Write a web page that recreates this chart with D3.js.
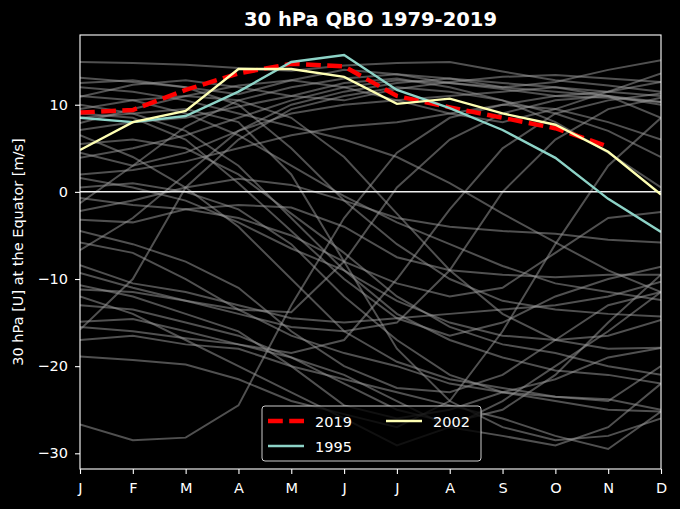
<!DOCTYPE html>
<html>
<head>
<meta charset="utf-8">
<script src="https://cdn.jsdelivr.net/npm/d3@7"></script>
<style>
  html, body { margin: 0; padding: 0; background: #000; }
  svg { display: block; }
  text { font-family: "DejaVu Sans", sans-serif; fill: #fff; }
</style>
</head>
<body>
<script>
// ---------- data ----------
const months = ["J","F","M","A","M","J","J","A","S","O","N","D"];
const yTicks = [10, 0, -10, -20, -30];

const u2019 = [9.1, 9.4, 11.7, 13.6, 14.7, 14.4, 11.0, 9.7, 8.5, 7.3, 5.2];
const u1995 = [8.5, 8.0, 8.7, 11.5, 14.9, 15.7, 11.7, 9.6, 7.1, 3.9, -0.8, -4.6];
const u2002 = [4.8, 8.0, 9.3, 14.1, 14.1, 13.2, 10.1, 10.7, 9.0, 7.7, 4.6, -0.3];

// other years (grey)
const grey01 = [14.9, 14.8, 14.6, 14.2, 13.9, 14.5, 14.8, 14.9, 13.8, 12.8, 12.2, 11.5];
const grey02 = [13.1, 12.6, 12.0, 11.2, 12.8, 14.0, 13.5, 12.5, 12.0, 12.6, 14.0, 15.1];
const grey03 = [10.9, 12.3, 12.8, 12.0, 11.0, 10.5, 11.8, 12.6, 13.2, 13.4, 13.0, 12.6];
const grey04 = [12.0, 11.5, 10.5, 9.0, 7.5, 6.0, 4.0, 1.0, -2.5, -5.8, -9.0, -11.5];
const grey05 = [7.9, 9.5, 11.0, 12.2, 12.8, 12.0, 10.5, 9.0, 8.0, 9.5, 11.5, 13.6];
const grey06 = [7.1, 8.0, 8.5, 9.8, 11.0, 12.5, 13.0, 12.0, 10.5, 8.0, 4.5, 0.5];
const grey07 = [3.9, 5.0, 6.5, 8.5, 10.5, 12.0, 12.8, 12.5, 11.8, 11.0, 10.8, 10.3];
const grey08 = [-26.7, -28.5, -28.2, -24.5, -13.0, -3.0, 4.5, 8.5, 10.0, 11.0, 11.5, 12.6];
const grey09 = [-15.8, -10.0, 0.5, 6.0, 9.5, 11.0, 12.0, 11.5, 10.5, 9.0, 7.0, 4.0];
const grey10 = [-18.9, -19.3, -19.8, -21.5, -24.0, -25.5, -27.0, -24.0, -16.0, -6.0, 3.0, 8.5];
const grey11 = [-14.9, -14.6, -16.0, -17.5, -18.5, -17.0, -10.0, -2.0, 5.0, 9.0, 10.5, 11.3];
const grey12 = [-9.3, -11.0, -12.5, -14.0, -15.5, -16.0, -15.0, -9.0, 0.0, 6.0, 9.5, 10.8];
const grey13 = [-11.2, -11.5, -12.5, -13.5, -13.8, -8.0, 0.5, 6.0, 9.0, 10.5, 11.0, 10.3];
const grey14 = [-6.7, -3.0, 2.0, 7.0, 10.0, 11.5, 12.5, 13.0, 12.0, 11.5, 11.0, 10.0];
const grey15 = [-1.3, 3.0, 7.5, 10.5, 12.0, 13.0, 13.5, 13.0, 12.5, 12.0, 11.5, 11.0];
const grey16 = [10.0, 9.0, 7.0, 3.0, -3.0, -9.0, -14.0, -17.0, -19.0, -20.5, -21.0, -22.0];
const grey17 = [9.5, 10.5, 11.0, 10.5, 8.5, 4.0, -2.5, -9.0, -14.0, -17.0, -18.0, -17.9];
const grey18 = [5.5, 6.0, 5.0, 2.0, -2.5, -7.0, -12.0, -15.5, -17.5, -18.5, -20.0, -21.0];
const grey19 = [1.6, 0.5, -1.0, -3.5, -6.5, -9.0, -12.5, -15.0, -16.5, -17.0, -16.5, -14.7];
const grey20 = [12.5, 12.8, 12.0, 10.0, 5.0, -1.0, -6.0, -10.0, -12.5, -13.5, -14.0, -14.3];
const grey21 = [11.0, 10.5, 9.0, 6.5, 3.0, -0.5, -3.5, -6.0, -8.5, -10.5, -11.5, -12.4];
const grey22 = [9.0, 8.5, 6.0, 1.0, -4.5, -10.0, -14.5, -16.5, -15.0, -12.0, -10.0, -8.6];
const grey23 = [-17.0, -16.5, -17.5, -18.0, -20.0, -21.5, -23.0, -24.5, -26.0, -28.0, -29.5, -25.2];
const grey24 = [-15.5, -16.0, -16.8, -17.5, -19.0, -21.0, -24.0, -27.0, -28.0, -29.1, -27.0, -22.0];
const grey25 = [-12.0, -14.0, -17.0, -20.0, -23.0, -26.0, -29.1, -27.0, -24.0, -20.0, -16.0, -11.5];
const grey26 = [-13.0, -13.5, -15.0, -16.5, -19.0, -22.0, -25.0, -26.5, -25.0, -21.0, -15.0, -9.5];
const grey27 = [-10.7, -12.0, -14.0, -16.0, -20.0, -24.5, -26.0, -25.0, -23.0, -23.5, -23.8, -25.0];
const grey28 = [-8.4, -10.5, -11.5, -13.0, -14.5, -15.0, -14.5, -14.0, -13.5, -13.0, -12.0, -10.3];
const grey29 = [-5.8, -7.0, -10.0, -13.5, -16.5, -18.5, -20.0, -22.0, -23.0, -21.5, -19.0, -17.9];
const grey30 = [-0.7, -1.5, -2.0, -3.0, -5.0, -8.0, -10.5, -12.0, -11.0, -7.0, -3.0, -2.3];
const grey31 = [-3.2, -3.5, -2.0, -1.5, -1.8, -4.0, -7.5, -9.0, -9.5, -9.8, -9.5, -9.5];
const grey32 = [0.5, 1.0, 0.0, -2.0, -6.0, -12.0, -17.0, -21.0, -23.0, -24.0, -25.0, -25.2];
const grey33 = [-2.2, -1.0, 0.5, 1.5, 0.8, -1.0, -3.0, -4.0, -4.5, -4.8, -5.5, -5.8];
const grey34 = [8.5, 9.0, 9.5, 8.0, 2.0, -8.0, -18.0, -24.0, -27.0, -28.5, -28.0, -26.0];
const grey35 = [4.5, 3.0, 4.5, 7.0, 9.0, 10.0, 10.5, 11.0, 11.5, 12.0, 11.0, 8.5];
const grey36 = [2.0, 2.5, 3.5, 5.0, 6.5, 7.5, 8.0, 9.0, 10.0, 9.5, 8.0, 6.0];
const grey37 = [-4.5, -6.0, -8.0, -11.0, -16.0, -20.0, -22.5, -23.0, -21.0, -17.0, -13.0, -11.5];
const grey38 = [6.5, 4.0, 0.5, -4.0, -10.0, -16.0, -19.5, -21.5, -22.5, -23.5, -24.0, -20.0];

const greyYears = [grey01, grey02, grey03, grey04, grey05, grey06, grey07, grey08, grey09, grey10,
  grey11, grey12, grey13, grey14, grey15, grey16, grey17, grey18, grey19, grey20,
  grey21, grey22, grey23, grey24, grey25, grey26, grey27, grey28, grey29, grey30,
  grey31, grey32, grey33, grey34, grey35, grey36, grey37, grey38];

// ---------- layout ----------
const W = 680, H = 509;
const m = { left: 80, right: 661, top: 35, bottom: 469 };

const svg = d3.select("body").append("svg").attr("width", W).attr("height", H);
svg.append("rect").attr("width", W).attr("height", H).attr("fill", "#000");

const x = d3.scaleLinear().domain([0, 11]).range([m.left, m.right]);
const y = d3.scaleLinear().domain([-31.8, 18]).range([m.bottom, m.top]);

svg.append("clipPath").attr("id", "clip")
  .append("rect").attr("x", m.left).attr("y", m.top)
  .attr("width", m.right - m.left).attr("height", m.bottom - m.top);

const plot = svg.append("g").attr("clip-path", "url(#clip)");
const line = d3.line().x((d, i) => x(i)).y(d => y(d));

plot.selectAll("path.grey").data(greyYears).enter().append("path")
  .attr("class", "grey")
  .attr("d", line)
  .attr("fill", "none")
  .attr("stroke", "#9a9a9a")
  .attr("stroke-opacity", 0.52)
  .attr("stroke-width", 2);

// zero line
plot.append("line")
  .attr("x1", m.left).attr("x2", m.right)
  .attr("y1", y(0)).attr("y2", y(0))
  .attr("stroke", "#f0f0f0").attr("stroke-width", 1.5);

const highlight = [
  { name: "2019", data: u2019, color: "#ff0000", width: 4.4, dash: "14.8,6.4" },
  { name: "1995", data: u1995, color: "#8dd3c7", width: 2.4, dash: null },
  { name: "2002", data: u2002, color: "#feffb3", width: 2.4, dash: null }
];
highlight.forEach(s => {
  plot.append("path")
    .attr("d", line(s.data))
    .attr("fill", "none")
    .attr("stroke", s.color)
    .attr("stroke-width", s.width)
    .attr("stroke-dasharray", s.dash);
});

// ---------- axes ----------
const xAxis = d3.axisBottom(x).tickValues(d3.range(12))
  .tickFormat(i => months[i]).tickSize(5).tickPadding(9);
const yAxis = d3.axisLeft(y).tickValues(yTicks)
  .tickFormat(d => d < 0 ? "\u2212" + Math.abs(d) : String(d)).tickSize(5).tickPadding(7);

const gx = svg.append("g").attr("transform", `translate(0,${m.bottom})`).call(xAxis);
const gy = svg.append("g").attr("transform", `translate(${m.left},0)`).call(yAxis);
[gx, gy].forEach(g => {
  g.select(".domain").remove();
  g.selectAll(".tick line").attr("stroke", "#fff").attr("stroke-width", 1.1);
  g.selectAll(".tick text").attr("fill", "#fff")
    .style("font-family", "DejaVu Sans, sans-serif").style("font-size", "14.5px");
});

// frame
svg.append("rect")
  .attr("x", m.left).attr("y", m.top)
  .attr("width", m.right - m.left).attr("height", m.bottom - m.top)
  .attr("fill", "none").attr("stroke", "#fff").attr("stroke-width", 1.1);

// title
svg.append("text")
  .attr("x", (m.left + m.right) / 2).attr("y", 26)
  .attr("text-anchor", "middle")
  .style("font-size", "19.5px").style("font-weight", "bold")
  .text("30 hPa QBO 1979-2019");

// y label
svg.append("text")
  .attr("transform", `translate(23,${(m.top + m.bottom) / 2}) rotate(-90)`)
  .attr("text-anchor", "middle")
  .style("font-size", "14.5px")
  .text("30 hPa [U] at the Equator [m/s]");

// ---------- legend ----------
const lg = svg.append("g");
lg.append("rect")
  .attr("x", 262).attr("y", 406).attr("width", 219).attr("height", 55)
  .attr("rx", 3).attr("ry", 3)
  .attr("fill", "#000").attr("fill-opacity", 0.8)
  .attr("stroke", "#cccccc").attr("stroke-width", 1);

const legendItems = [
  { s: highlight[0], x: 268, y: 421 },
  { s: highlight[1], x: 268, y: 446 },
  { s: highlight[2], x: 386, y: 421 }
];
legendItems.forEach(it => {
  lg.append("line")
    .attr("x1", it.x).attr("x2", it.x + 36)
    .attr("y1", it.y).attr("y2", it.y)
    .attr("stroke", it.s.color)
    .attr("stroke-width", it.s.width)
    .attr("stroke-dasharray", it.s.dash);
  lg.append("text")
    .attr("x", it.x + 47).attr("y", it.y + 5.5)
    .style("font-size", "14.5px")
    .text(it.s.name);
});
</script>
</body>
</html>
